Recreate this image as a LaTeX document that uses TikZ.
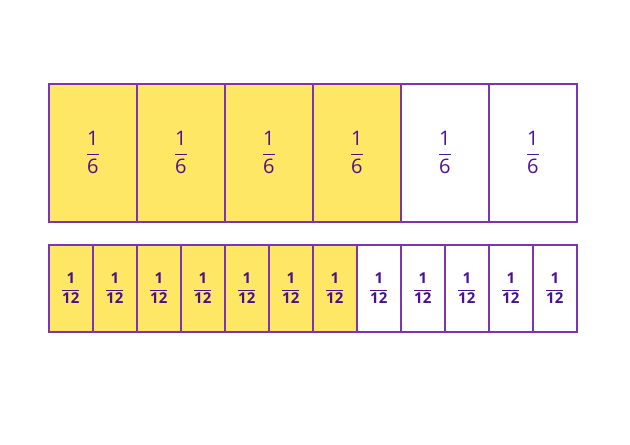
\documentclass[tikz,border=0pt]{standalone}
\usepackage{amsmath}
\usepackage{fontspec}
\setmainfont{Open Sans}
\definecolor{fy}{HTML}{FFE766}
\definecolor{fb}{HTML}{7B35B0}
\definecolor{ft}{HTML}{4A1090}
\tikzset{cellbox/.style={draw=fb,line width=1.6pt,minimum height=#1,inner sep=0pt,text=ft,anchor=north west}}
\begin{document}
\begin{tikzpicture}[x=1pt,y=-1pt]
\useasboundingbox (0,0) rectangle (630,445);
\foreach \i in {0,...,5}{
  \pgfmathsetmacro\fc{\i<4?1:0}
  \ifdim\fc pt>0.5pt \def\col{fy}\else\def\col{white}\fi
  \node[cellbox=138pt,minimum width=88pt,fill=\col] (t\i) at (48+88*\i,83) {\fontsize{20}{22}\selectfont$\dfrac{\text{1}}{\text{6}}$};
}
\foreach \i in {0,...,11}{
  \pgfmathsetmacro\fc{\i<7?1:0}
  \ifdim\fc pt>0.5pt \def\col{fy}\else\def\col{white}\fi
  \node[cellbox=87pt,minimum width=44pt,fill=\col] (b\i) at (48+44*\i,244) {\fontsize{15}{18}\selectfont$\dfrac{\textbf{1}}{\textbf{12}}$};
}
\end{tikzpicture}
\end{document}
